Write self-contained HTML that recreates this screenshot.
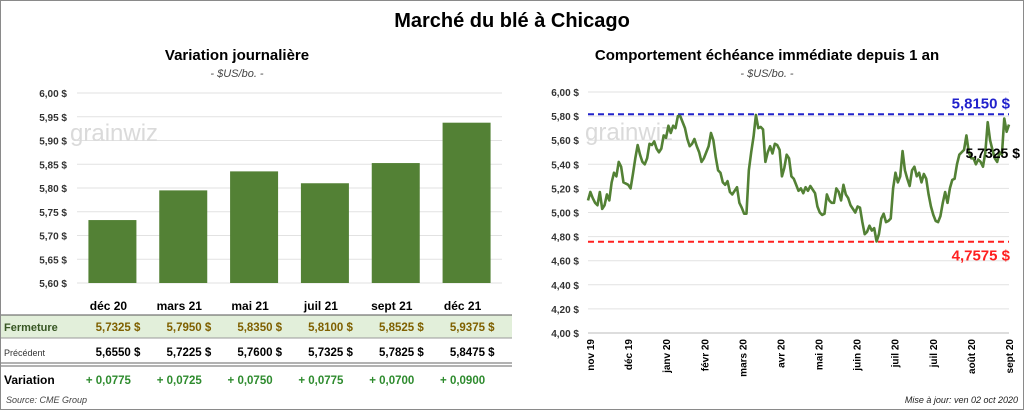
<!DOCTYPE html>
<html><head><meta charset="utf-8"><style>
body{margin:0;width:1024px;height:410px;overflow:hidden;background:#fff;font-family:"Liberation Sans",sans-serif}
svg text{font-family:"Liberation Sans",sans-serif}
</style></head><body>
<svg id="s" width="1024" height="410">
<rect x="0.5" y="0.5" width="1023" height="409" fill="#fff" stroke="#8a8a8a"/>
<text x="512" y="27" text-anchor="middle" font-size="20" font-weight="bold">Marché du blé à Chicago</text>
<text x="237" y="60" text-anchor="middle" font-size="15" font-weight="bold">Variation  journalière</text>
<text x="237" y="77" text-anchor="middle" font-size="11" font-style="italic" fill="#444">- $US/bo. -</text>
<text x="767" y="60" text-anchor="middle" font-size="15" font-weight="bold">Comportement  échéance immédiate depuis 1 an</text>
<text x="767" y="77" text-anchor="middle" font-size="11" font-style="italic" fill="#444">- $US/bo. -</text>
<g id="left"></g>
<g id="table"></g>
<g id="right"></g>
<text x="6" y="403" font-size="9" font-style="italic" fill="#444">Source: CME Group</text>
<text x="1018" y="403" text-anchor="end" font-size="9" font-style="italic" fill="#222">Mise à jour: ven 02 oct 2020</text>
</svg>
<script>
const contracts=["déc 20","mars 21","mai 21","juil 21","sept 21","déc 21"];
const closes=[5.7325,5.7950,5.8350,5.8100,5.8525,5.9375];
const previous=[5.6550,5.7225,5.7600,5.7325,5.7825,5.8475];
const changes=["+ 0,0775","+ 0,0725","+ 0,0750","+ 0,0775","+ 0,0700","+ 0,0900"];
const barTicks=[5.60,5.65,5.70,5.75,5.80,5.85,5.90,5.95,6.00];
const lineTicks=[4.00,4.20,4.40,4.60,4.80,5.00,5.20,5.40,5.60,5.80,6.00];
const months=["nov 19","déc 19","janv 20","févr 20","mars 20","avr 20","mai 20","juin 20","juil 20","juil 20","août 20","sept 20"];
const yearHigh=5.8150, yearLow=4.7575, lastPrice=5.7325;
const prices=[5.10,5.17,5.12,5.08,5.06,5.17,5.03,5.06,5.15,5.10,5.25,5.33,5.30,5.42,5.38,5.25,5.24,5.23,5.20,5.32,5.45,5.56,5.48,5.42,5.40,5.45,5.57,5.56,5.59,5.53,5.50,5.53,5.64,5.62,5.72,5.66,5.72,5.70,5.80,5.80,5.75,5.70,5.61,5.55,5.57,5.61,5.55,5.50,5.42,5.45,5.50,5.55,5.66,5.60,5.46,5.35,5.33,5.25,5.23,5.26,5.17,5.15,5.18,5.21,5.08,5.04,4.99,4.99,5.35,5.50,5.63,5.81,5.70,5.71,5.69,5.42,5.50,5.55,5.49,5.57,5.56,5.52,5.30,5.37,5.48,5.45,5.30,5.28,5.23,5.18,5.20,5.16,5.21,5.18,5.22,5.19,5.16,5.05,5.00,4.98,4.99,5.15,5.10,5.08,5.08,5.20,5.17,5.10,5.23,5.15,5.12,5.06,5.03,5.00,5.05,5.04,4.92,4.82,4.84,4.89,4.85,4.87,4.76,4.82,4.95,4.99,4.92,4.93,4.95,5.20,5.33,5.25,5.30,5.51,5.35,5.28,5.22,5.35,5.38,5.30,5.33,5.25,5.32,5.28,5.15,5.05,4.98,4.93,4.92,4.97,5.08,5.17,5.08,5.20,5.27,5.28,5.40,5.48,5.50,5.52,5.64,5.50,5.45,5.45,5.40,5.44,5.42,5.38,5.50,5.75,5.60,5.52,5.45,5.42,5.50,5.48,5.78,5.67,5.73];
const NS="http://www.w3.org/2000/svg";
function mk(p,tag,a,txt){const e=document.createElementNS(NS,tag);for(const k in a)e.setAttribute(k,a[k]);if(txt!=null)e.textContent=txt;p.appendChild(e);return e;}
const fmt=(v,d)=>v.toFixed(d).replace('.',',');
const L=document.getElementById('left');
const lx0=77,lx1=502,ly0=283,ly1=93;
const ly=v=>ly0-(v-5.60)/(0.40)*(ly0-ly1);
const cw=(lx1-lx0)/contracts.length;
const lcx=i=>lx0+cw*(i+0.5);
barTicks.forEach(t=>{
 const g=mk(L,'line',{x1:lx0,x2:lx1,y1:ly(t),y2:ly(t),stroke:'#e2e2e2','stroke-width':1});
 
 const tx=mk(L,'text',{x:67,y:ly(t)+4,'text-anchor':'end','font-size':10,'font-weight':'bold',fill:'#333'},fmt(t,2)+' $');
 
});
mk(L,'text',{x:70,y:141,'font-size':24,fill:'#dadada'},'grainwiz');
closes.forEach((v,i)=>{
 const r=mk(L,'rect',{x:lcx(i)-24,y:ly(v),width:48,height:ly0-ly(v),fill:'#538135'});
 
 
});
const T=document.getElementById('table');
mk(T,'rect',{x:1,y:315,width:511,height:23,fill:'#e2efda'});
mk(T,'line',{x1:1,x2:512,y1:315,y2:315,stroke:'#555'});
mk(T,'line',{x1:1,x2:512,y1:338,y2:338,stroke:'#999'});
mk(T,'line',{x1:1,x2:512,y1:363,y2:363,stroke:'#666'});
mk(T,'line',{x1:1,x2:512,y1:366,y2:366,stroke:'#666'});
mk(T,'text',{x:4,y:331,'font-size':11,'font-weight':'bold',fill:'#375623'},'Fermeture');
mk(T,'text',{x:4,y:356,'font-size':9,fill:'#333'},'Précédent');
mk(T,'text',{x:4,y:384,'font-size':12,'font-weight':'bold'},'Variation');
contracts.forEach((c,i)=>{
 const x=lcx(i)-4;
 const h=mk(T,'text',{x:x,y:310,'text-anchor':'middle','font-size':12,'font-weight':'bold'},c);
 
 const a=mk(T,'text',{x:lcx(i)+28,y:331,'text-anchor':'end','font-size':11.5,'font-weight':'bold',fill:'#7f6000'},fmt(closes[i],4)+'  $');
 
 const b=mk(T,'text',{x:lcx(i)+28,y:356,'text-anchor':'end','font-size':11.5,'font-weight':'bold'},fmt(previous[i],4)+'  $');
 
 const d=mk(T,'text',{x:x,y:384,'text-anchor':'middle','font-size':11.5,'font-weight':'bold',fill:'#2e8b2e'},changes[i]);
 
});
const R=document.getElementById('right');
const rx0=588,rx1=1009,ry0=333,ry1=92;
const ry=v=>ry0-(v-4)/2*(ry0-ry1);
const rxi=i=>rx0+(rx1-rx0)*i/(prices.length-1);
lineTicks.forEach(t=>{
 const g=mk(R,'line',{x1:rx0,x2:rx1,y1:ry(t),y2:ry(t),stroke:'#e2e2e2'});
 
 const tx=mk(R,'text',{x:579,y:ry(t)+4,'text-anchor':'end','font-size':10,'font-weight':'bold',fill:'#333'},fmt(t,2)+' $');
 
});
mk(R,'line',{x1:rx0,x2:rx1,y1:ry0,y2:ry0,stroke:'#bbb'});
mk(R,'text',{x:585,y:140,'font-size':24,fill:'#dadada'},'grainwiz');
months.forEach((m,i)=>{
 const x=rx0+2+(rx1-rx0-2)*i/(months.length-1);
 const t=mk(R,'text',{x:0,y:0,'text-anchor':'end','font-size':10,'font-weight':'bold',transform:`translate(${x+4},${339}) rotate(-90)`},m);
 
});
const hl=mk(R,'line',{x1:rx0,x2:rx1,y1:ry(yearHigh),y2:ry(yearHigh),stroke:'#2222cc','stroke-width':2,'stroke-dasharray':'6,4'});

const ll=mk(R,'line',{x1:rx0,x2:rx1,y1:ry(yearLow),y2:ry(yearLow),stroke:'#ff2020','stroke-width':2,'stroke-dasharray':'6,4'});

const p=mk(R,'polyline',{points:prices.map((v,i)=>rxi(i)+','+ry(v)).join(' '),fill:'none',stroke:'#538135','stroke-width':2.6,'stroke-linejoin':'round'});

const a=mk(R,'text',{x:1010,y:ry(yearHigh)-6,'text-anchor':'end','font-size':15,'font-weight':'bold',fill:'#2222cc'},fmt(yearHigh,4)+' $');

const b=mk(R,'text',{x:1010,y:ry(yearLow)+19,'text-anchor':'end','font-size':15,'font-weight':'bold',fill:'#ff2020'},fmt(yearLow,4)+' $');

const c=mk(R,'text',{x:1020,y:158,'text-anchor':'end','font-size':14,'font-weight':'bold'},fmt(lastPrice,4)+' $');

</script>
</body></html>
